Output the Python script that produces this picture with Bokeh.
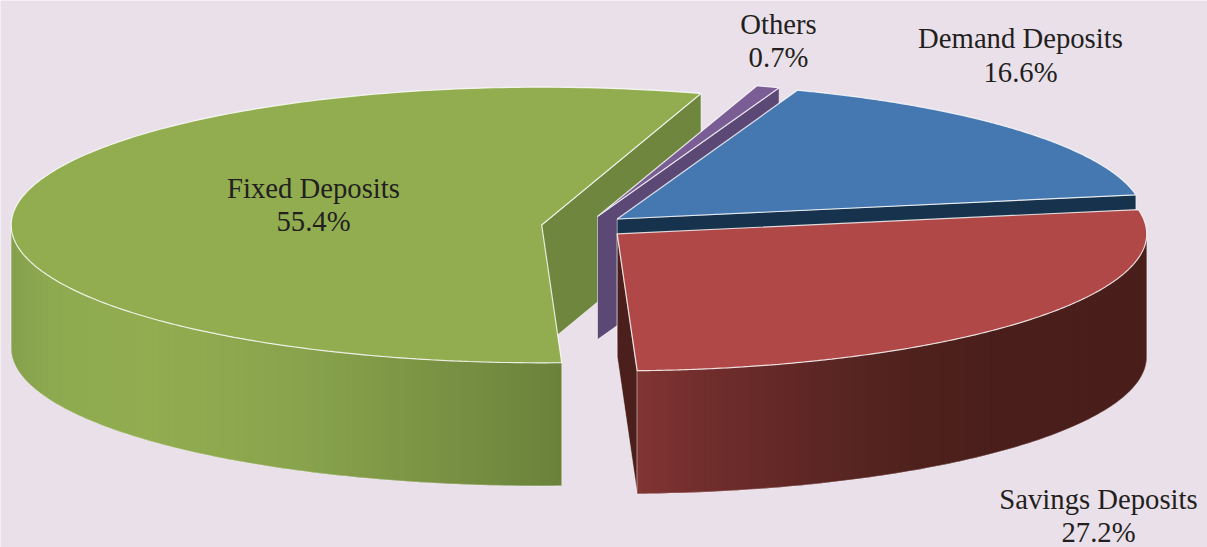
import numpy as np
from bokeh.plotting import figure
from bokeh.embed import file_html
from bokeh.resources import INLINE
from bokeh.core.properties import value

# ---- data ----
categories = ["Demand Deposits", "Savings Deposits", "Fixed Deposits", "Others"]
shares = [16.6, 27.2, 55.4, 0.7]
label_text = ["16.6%", "27.2%", "55.4%", "0.7%"]

# ---- style / layout ----
BG = "#eae0ea"
W, H = 1207, 547
FIRST_ANGLE = 20.0
DEPTH = 123
p = figure(width=W, height=H, x_range=(0, W), y_range=(H, 0), output_backend="svg",
           toolbar_location=None, min_border=0, background_fill_color=BG,
           border_fill_color=BG, outline_line_color=None, margin=(0, 0, 0, 0))
p.axis.visible = False
p.grid.visible = False

total = sum(shares)
edges = {}
a = FIRST_ANGLE
for c, s in zip(categories, shares):
    edges[c] = (a, a + s / total * 360.0)
    a = edges[c][1]

# slice explosion: apex position and radii on screen
GEOM = {
    "Demand Deposits": (616.7, 218.5, 527.0, 137.0),
    "Savings Deposits": (616.7, 233.3, 529.5, 137.0),
    "Fixed Deposits": (541.2, 224.5, 530.5, 137.8),
    "Others": (597.0, 216.0, 531.0, 137.0),
}


def rim(cat, t0, t1, n=240):
    cx, cy, rx, ry = GEOM[cat]
    t = np.radians(np.linspace(t0, t1, n))
    return cx + rx * np.sin(t), cy - ry * np.cos(t)


def top_face(cat, fill):
    cx, cy, *_ = GEOM[cat]
    x, y = rim(cat, *edges[cat])
    p.patch(np.r_[cx, x, cx], np.r_[cy, y, cy], fill_color=fill, line_color="#ffffff",
            line_width=1.2, line_alpha=0.8)


def radial_wall(cat, angle, fill):
    cx, cy, *_ = GEOM[cat]
    x, y = rim(cat, angle, angle, 1)
    p.patch([cx, x[0], x[0], cx, cx], [cy, y[0], y[0] + DEPTH, cy + DEPTH, cy], fill_color=fill,
            line_color="#ffffff", line_width=1.0, line_alpha=0.5)


def mix(stops, x):
    xs = [s[0] for s in stops]
    rgb = np.array([[int(s[1][i:i + 2], 16) for i in (1, 3, 5)] for s in stops], float)
    vals = [np.interp(x, xs, rgb[:, k]) for k in range(3)]
    return "#%02x%02x%02x" % tuple(int(round(v)) for v in vals)


def outer_wall(cat, t0, t1, stops, n=120):
    x, y = rim(cat, t0, t1, n + 1)
    sx, sy, cols = [], [], []
    for i in range(n):
        j = min(i + 2, n)  # each strip runs under the next one, so no seams show
        sx.append(list(x[i:j + 1]) + list(x[i:j + 1][::-1]))
        sy.append(list(y[i:j + 1]) + list(y[i:j + 1][::-1] + DEPTH))
        cols.append(mix(stops, 0.5 * (x[i] + x[i + 1])))
    p.patches(sx, sy, fill_color=cols, line_color=None)
    p.patch(np.r_[x, x[::-1]], np.r_[y, y[::-1] + DEPTH], fill_color=None,
            line_color="#ffffff", line_width=1.0, line_alpha=0.3)


GREEN_STOPS = [(11, "#86a14c"), (50, "#8eaa50"), (150, "#92ad50"), (300, "#88a34c"),
               (400, "#7e9746"), (500, "#718a3f"), (560, "#6a823a")]
RED_STOPS = [(636, "#813533"), (700, "#722e2d"), (800, "#602725"), (900, "#50221e"),
             (1000, "#4a1e1b"), (1146, "#4a1e1b")]

# fixed deposits
radial_wall("Fixed Deposits", edges["Fixed Deposits"][1], "#6f863e")
outer_wall("Fixed Deposits", edges["Fixed Deposits"][0], 270, GREEN_STOPS)
top_face("Fixed Deposits", "#92ad50")
# others
radial_wall("Others", edges["Others"][1], "#5c4874")
top_face("Others", "#7a5d94")
# demand deposits
radial_wall("Demand Deposits", edges["Demand Deposits"][1], "#17324c")
top_face("Demand Deposits", "#4578b0")
# savings deposits
radial_wall("Savings Deposits", edges["Savings Deposits"][1], "#4b1f1b")
outer_wall("Savings Deposits", 90, edges["Savings Deposits"][1], RED_STOPS)
top_face("Savings Deposits", "#af4846")

# labels
LABEL_POS = {
    "Demand Deposits": (1020, 37, 71),
    "Savings Deposits": (1098, 498, 531),
    "Fixed Deposits": (313, 187, 220),
    "Others": (778, 23, 56),
}
tx, ty, tt = [], [], []
for c, l in zip(categories, label_text):
    x, y1, y2 = LABEL_POS[c]
    tx += [x, x]
    ty += [y1, y2]
    tt += [c, l]
p.text(tx, ty, text=tt, text_font=value("Liberation Serif"), text_font_size="28.7px",
       text_color="#231f20", text_align="center", text_baseline="middle")

open("out.html", "w").write(file_html(p, INLINE))
